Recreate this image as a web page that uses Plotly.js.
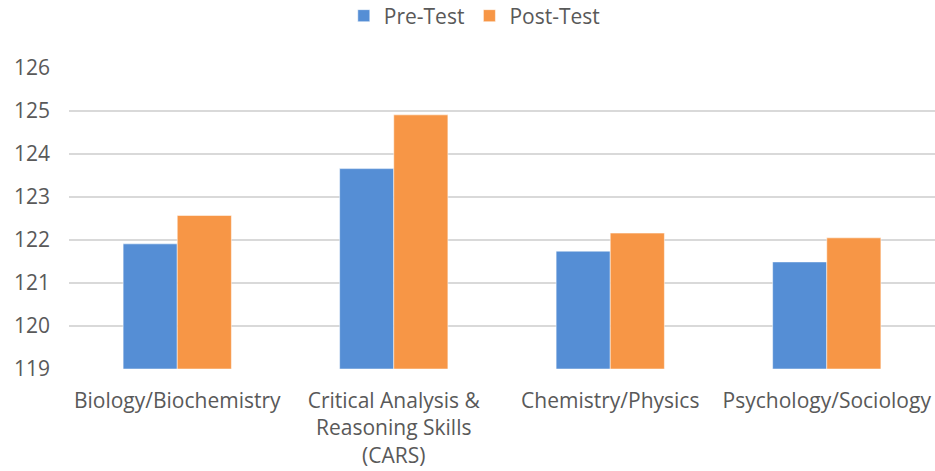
<!DOCTYPE html>
<html>
<head>
<meta charset="utf-8">
<script src="https://cdn.plot.ly/plotly-3.0.1.min.js"></script>
<style>html,body{margin:0;padding:0;background:#fff;}#chart{width:935px;height:471px;}</style>
</head>
<body>
<div id="chart"></div>
<script>
var categories = ["Biology/Biochemistry", "Critical Analysis &<br>Reasoning Skills<br>(CARS)", "Chemistry/Physics", "Psychology/Sociology"];
var preTest = [121.91, 123.66, 121.74, 121.49];
var postTest = [122.57, 124.91, 122.16, 122.05];
var yTicks = [119, 120, 121, 122, 123, 124, 125, 126];
var baseValue = 119;

var font = {family: "Open Sans, sans-serif", size: 21, color: "#595959"};
var traces = [
  {type: "bar", name: "Pre-Test", x: categories, y: preTest.map(function(v){return v - baseValue;}), base: baseValue,
   marker: {color: "#558ED5", line: {color: "#ffffff", width: 0.5}}},
  {type: "bar", name: "Post-Test", x: categories, y: postTest.map(function(v){return v - baseValue;}), base: baseValue,
   marker: {color: "#F79646", line: {color: "#ffffff", width: 0.5}}}
];

var layout = {
  width: 935, height: 471,
  margin: {l: 69, r: 0, t: 68, b: 102},
  paper_bgcolor: "#ffffff", plot_bgcolor: "#ffffff",
  font: font,
  barmode: "group", bargap: 0.5, bargroupgap: 0,
  showlegend: true,
  legend: {orientation: "h", x: 0.468, xanchor: "center", y: 0.966, yref: "container", yanchor: "middle",
           font: font, itemwidth: 30, tracegroupgap: 0},
  xaxis: {type: "category", range: [-0.5, 3.5], showgrid: false, zeroline: false,
          showline: false, ticks: "", tickfont: font, ticklabelstandoff: 17, fixedrange: true},
  yaxis: {range: [119, 126], tickvals: yTicks, ticktext: yTicks.map(String),
          showgrid: true, gridcolor: "#D9D9D9", gridwidth: 1.5, zeroline: false,
          showline: false, ticks: "", tickfont: font, ticklabelstandoff: 18, fixedrange: true}
};
Plotly.newPlot("chart", traces, layout, {displayModeBar: false, staticPlot: true});
</script>
</body>
</html>
